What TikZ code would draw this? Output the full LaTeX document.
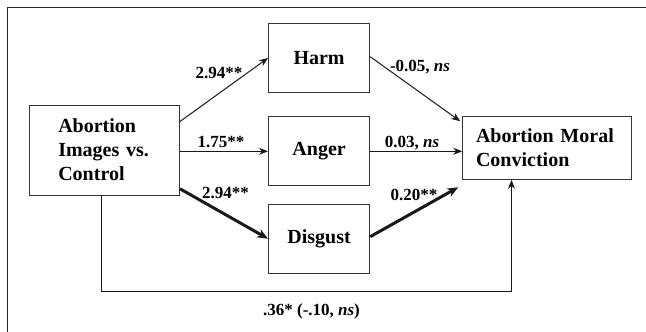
\documentclass[tikz,border=0pt]{standalone}
\usepackage{fontspec}
\setmainfont{Liberation Serif}
\usetikzlibrary{arrows.meta,calc}
\begin{document}
\begin{tikzpicture}[x=1pt,y=-1pt,
  box/.style={draw=black!80,line width=1pt,inner sep=0pt,font=\fontsize{20}{24}\selectfont\bfseries},
  lab/.style={inner sep=0pt,font=\fontsize{17}{20}\selectfont\bfseries},
  thinarr/.style={draw=black!90,line width=1pt,-{Stealth[length=9pt,width=7pt]}},
  thickarr/.style={draw=black!90,line width=3pt,-{Stealth[length=11pt,width=9pt]}}]
\useasboundingbox (0,0) rectangle (646,332);
\draw[black!85,line width=1.5pt] (7.4,340) -- (7.4,7.3) -- (660,7.3);
% boxes
\node[box,minimum width=150pt,minimum height=90pt,text width=92.4pt,align=left,inner xsep=28.8pt] (L) at (104.5,150) {Abortion\\Images vs.\\Control};
\node[box,minimum width=101.2pt,minimum height=69.4pt,align=center] (H) at (319.1,58) {Harm};
\node[box,minimum width=101.2pt,minimum height=69.3pt,align=center] (A) at (319.1,151.3) {Anger};
\node[box,minimum width=101.2pt,minimum height=69.3pt,align=center] (D) at (319.1,238.7) {Disgust};
\node[box,minimum width=168.3pt,minimum height=63.3pt,text width=141.7pt,align=left,inner xsep=13.3pt] (R) at (546.9,147.7) {Abortion Moral\\Conviction};
% connectors
\draw[thinarr] ($(L.north east)+(0,17)$) -- (H.west);
\draw[thinarr] (L.east |- A.west) -- (A.west);
\draw[thickarr] ($(L.south east)+(0,-6.7)$) -- (D.west);
\draw[thinarr] ($(H.east)+(0,-1.3)$) -- ($(R.north west)+(-2,5.7)$);
\draw[thinarr] (A.east) -- (A.east -| R.west);
\draw[thickarr] ($(D.east)+(0,-2)$) -- ($(R.south west)+(-4,7.4)$);
\coordinate (c1) at ($(L.south)+(-2.9,96)$);
\coordinate (c2) at ($(R.south)+(-35.4,0)$);
\draw[thinarr] ($(L.south)+(-2.9,0)$) -- (c1) -- (c1 -| c2) -- (c2);
% labels
\node[lab] (l1) at (219,73.3) {2.94**};
\node[lab] (l2) at (221,141.7) {1.75**};
\node[lab] (l3) at (225.4,193.3) {2.94**};
\node[lab] (l4) at (420,66.7) {-0.05, \textit{ns}};
\node[lab] (l5) at (412,142.7) {0.03, \textit{ns}};
\node[lab] (l6) at (414,195) {0.20**};
\node[lab] (l7) at (311.5,311.7) {.36* (-.10, \textit{ns})};
\end{tikzpicture}
\end{document}
